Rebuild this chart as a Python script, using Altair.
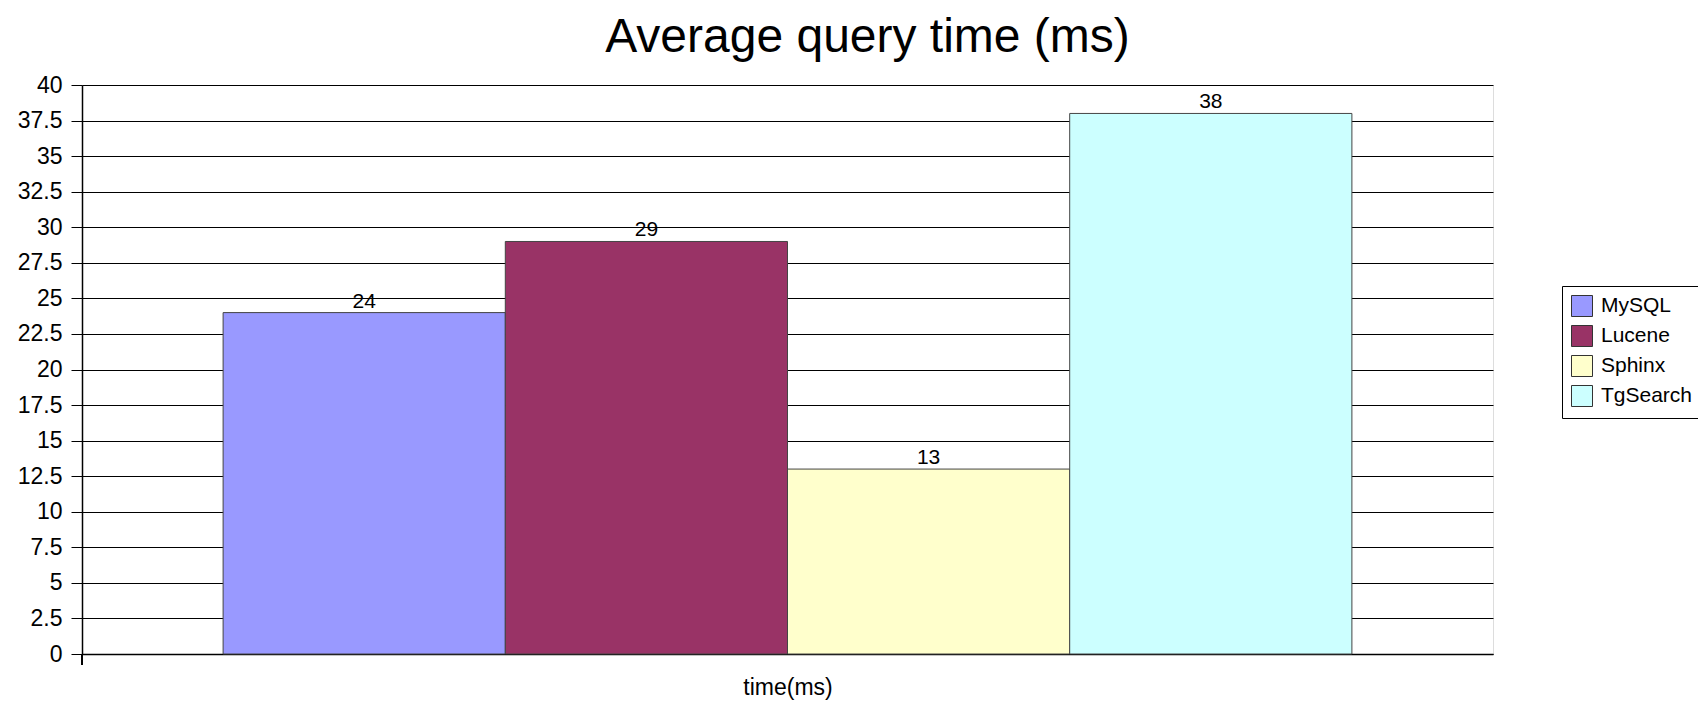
import altair as alt
import pandas as pd

title_text = ["Average query time (ms)"]
series = ["MySQL", "Lucene", "Sphinx", "TgSearch"]
values = [24, 29, 13, 38]
colors = ["#9999FF", "#993366", "#FFFFCC", "#CCFFFF"]
y_ticks = [0, 2.5, 5, 7.5, 10, 12.5, 15, 17.5, 20, 22.5, 25, 27.5, 30, 32.5, 35, 37.5, 40]

df = pd.DataFrame({"series": series, "value": values})
title_df = pd.DataFrame({"t": title_text})

FONT = "Liberation Sans"
W, H = 1411, 569

x_enc = alt.X(
    "series:N",
    sort=series,
    scale=alt.Scale(paddingInner=0, paddingOuter=0.5),
    axis=alt.Axis(
        title="time(ms)",
        labels=False,
        ticks=False,
        domain=True,
        domainColor="#000000",
        domainWidth=1.5,
        grid=False,
        titleFontSize=23,
        titleFont=FONT,
        titleFontWeight="normal",
        titleColor="#000000",
        titleBaseline="alphabetic",
        titleY=40,
    ),
)

y_axis = alt.Axis(
    title=None,
    values=y_ticks,
    tickCount=17,
    grid=True,
    gridColor="#000000",
    gridWidth=1,
    tickColor="#000000",
    tickSize=11,
    tickWidth=1,
    domainColor="#000000",
    domainWidth=1.5,
    labelFontSize=23,
    labelFont=FONT,
    labelColor="#000000",
    labelPadding=9,
    labelOverlap=False,
    labelFlush=False,
    format=".1~f",
)
y_scale = alt.Scale(domain=[0, 40], nice=False)

bars = alt.Chart(df).mark_bar(stroke="#444444", strokeWidth=1, opacity=1).encode(
    x=x_enc,
    y=alt.Y("value:Q", scale=y_scale, axis=y_axis),
    color=alt.Color(
        "series:N",
        sort=series,
        scale=alt.Scale(domain=series, range=colors),
        legend=alt.Legend(
            title=None,
            orient="none",
            legendX=1480,
            legendY=201,
            direction="vertical",
            symbolType="square",
            symbolSize=441,
            symbolStrokeColor="#333333",
            symbolStrokeWidth=1,
            symbolOpacity=1,
            labelFontSize=21,
            labelFont=FONT,
            labelColor="#000000",
            labelOffset=8,
            rowPadding=4,
            padding=9,
            strokeColor="#000000",
            fillColor="#FFFFFF",
        ),
    ),
)

labels = alt.Chart(df).mark_text(
    baseline="alphabetic", dy=-5, fontSize=21, font=FONT, color="#000000"
).encode(
    x=x_enc,
    y=alt.Y("value:Q", scale=y_scale, axis=y_axis),
    text=alt.Text("value:Q"),
)

edge_tick = alt.Chart(df).mark_rule(color="#000000", strokeWidth=1.5).encode(
    x=alt.value(0),
    y=alt.value(H),
    y2=alt.value(H + 11),
)

title_mark = alt.Chart(title_df).mark_text(
    baseline="alphabetic", align="center", fontSize=48, font=FONT, color="#000000"
).encode(
    x=alt.value(W / 2 + 80),
    y=alt.value(-33),
    text=alt.Text("t:N"),
)

chart = (
    alt.layer(bars, labels, edge_tick, title_mark)
    .properties(
        width=W,
        height=H,
        autosize=alt.AutoSizeParams(type="none"),
        padding={"left": 82, "top": 85, "right": 205, "bottom": 47},
    )
    .configure_view(stroke=None)
    .configure(background="#FFFFFF")
)

chart.save("out.html", embed_options={"renderer": "svg", "actions": False})
